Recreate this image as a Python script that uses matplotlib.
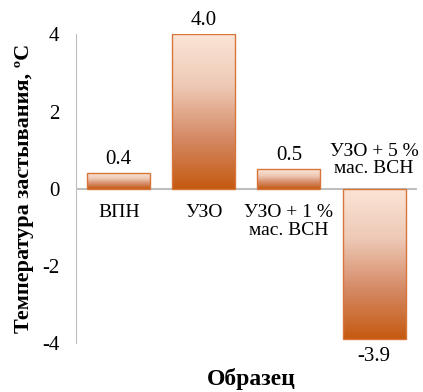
import matplotlib.pyplot as plt
import numpy as np
from matplotlib.colors import LinearSegmentedColormap

categories = ["ВПН", "УЗО", "УЗО + 1 %\nмас. ВСН", "УЗО + 5 %\nмас. ВСН"]
values = [0.4, 4.0, 0.5, -3.9]
value_labels = ["0.4", "4.0", "0.5", "-3.9"]
yticks = [-4, -2, 0, 2, 4]

plt.rcParams["font.family"] = ["Liberation Serif", "DejaVu Serif"]

grad = LinearSegmentedColormap.from_list(
    "bar", ["#C55A11", "#D58A66", "#EEC9B6", "#FBE5D6"])

fig = plt.figure(figsize=(4.23, 3.92), dpi=100)
ax = fig.add_axes([0.18, 0.125, 0.805, 0.787])

x = np.arange(len(values))
bars = ax.bar(x, values, width=0.74, facecolor="none",
              edgecolor="#D8753A", linewidth=1.0, zorder=3)

g = np.linspace(0, 1, 256).reshape(-1, 1)
for b in bars:
    x0, y0 = b.get_x(), min(b.get_y(), b.get_y() + b.get_height())
    x1, y1 = x0 + b.get_width(), max(b.get_y(), b.get_y() + b.get_height())
    im = ax.imshow(g, extent=[x0, x1, y0, y1], origin="lower",
                   aspect="auto", cmap=grad, zorder=2)
    im.set_clip_path(b)

ax.set_xlim(-0.5, len(values) - 0.5)
ax.set_ylim(-4, 4)
ax.set_yticks(yticks)
ax.set_yticklabels([str(t) for t in yticks], fontsize=15)
ax.tick_params(axis="y", length=0, pad=12)
ax.set_xticks([])

for s in ["top", "right", "bottom"]:
    ax.spines[s].set_visible(False)
ax.spines["left"].set_color("#BFBFBF")
ax.axhline(0, color="#BFBFBF", linewidth=1.5, zorder=1)

for xi, v, lab, cat in zip(x, values, value_labels, categories):
    if v >= 0:
        ax.text(xi, v + 0.12, lab, ha="center", va="bottom", fontsize=15)
        ax.text(xi, -0.4, cat, ha="center", va="top", fontsize=14,
                linespacing=1.05)
    else:
        ax.text(xi, v - 0.2, lab, ha="center", va="top", fontsize=15)
        ax.text(xi, 0.3, cat, ha="center", va="bottom", fontsize=14,
                linespacing=1.05)

ax.set_ylabel("Температура застывания, ºС", fontsize=16, fontweight="bold",
              labelpad=6)
fig.text(0.595, 0.005, "Образец", ha="center", va="bottom", fontsize=17,
         fontweight="bold")

fig.savefig("out.png", dpi=100)
